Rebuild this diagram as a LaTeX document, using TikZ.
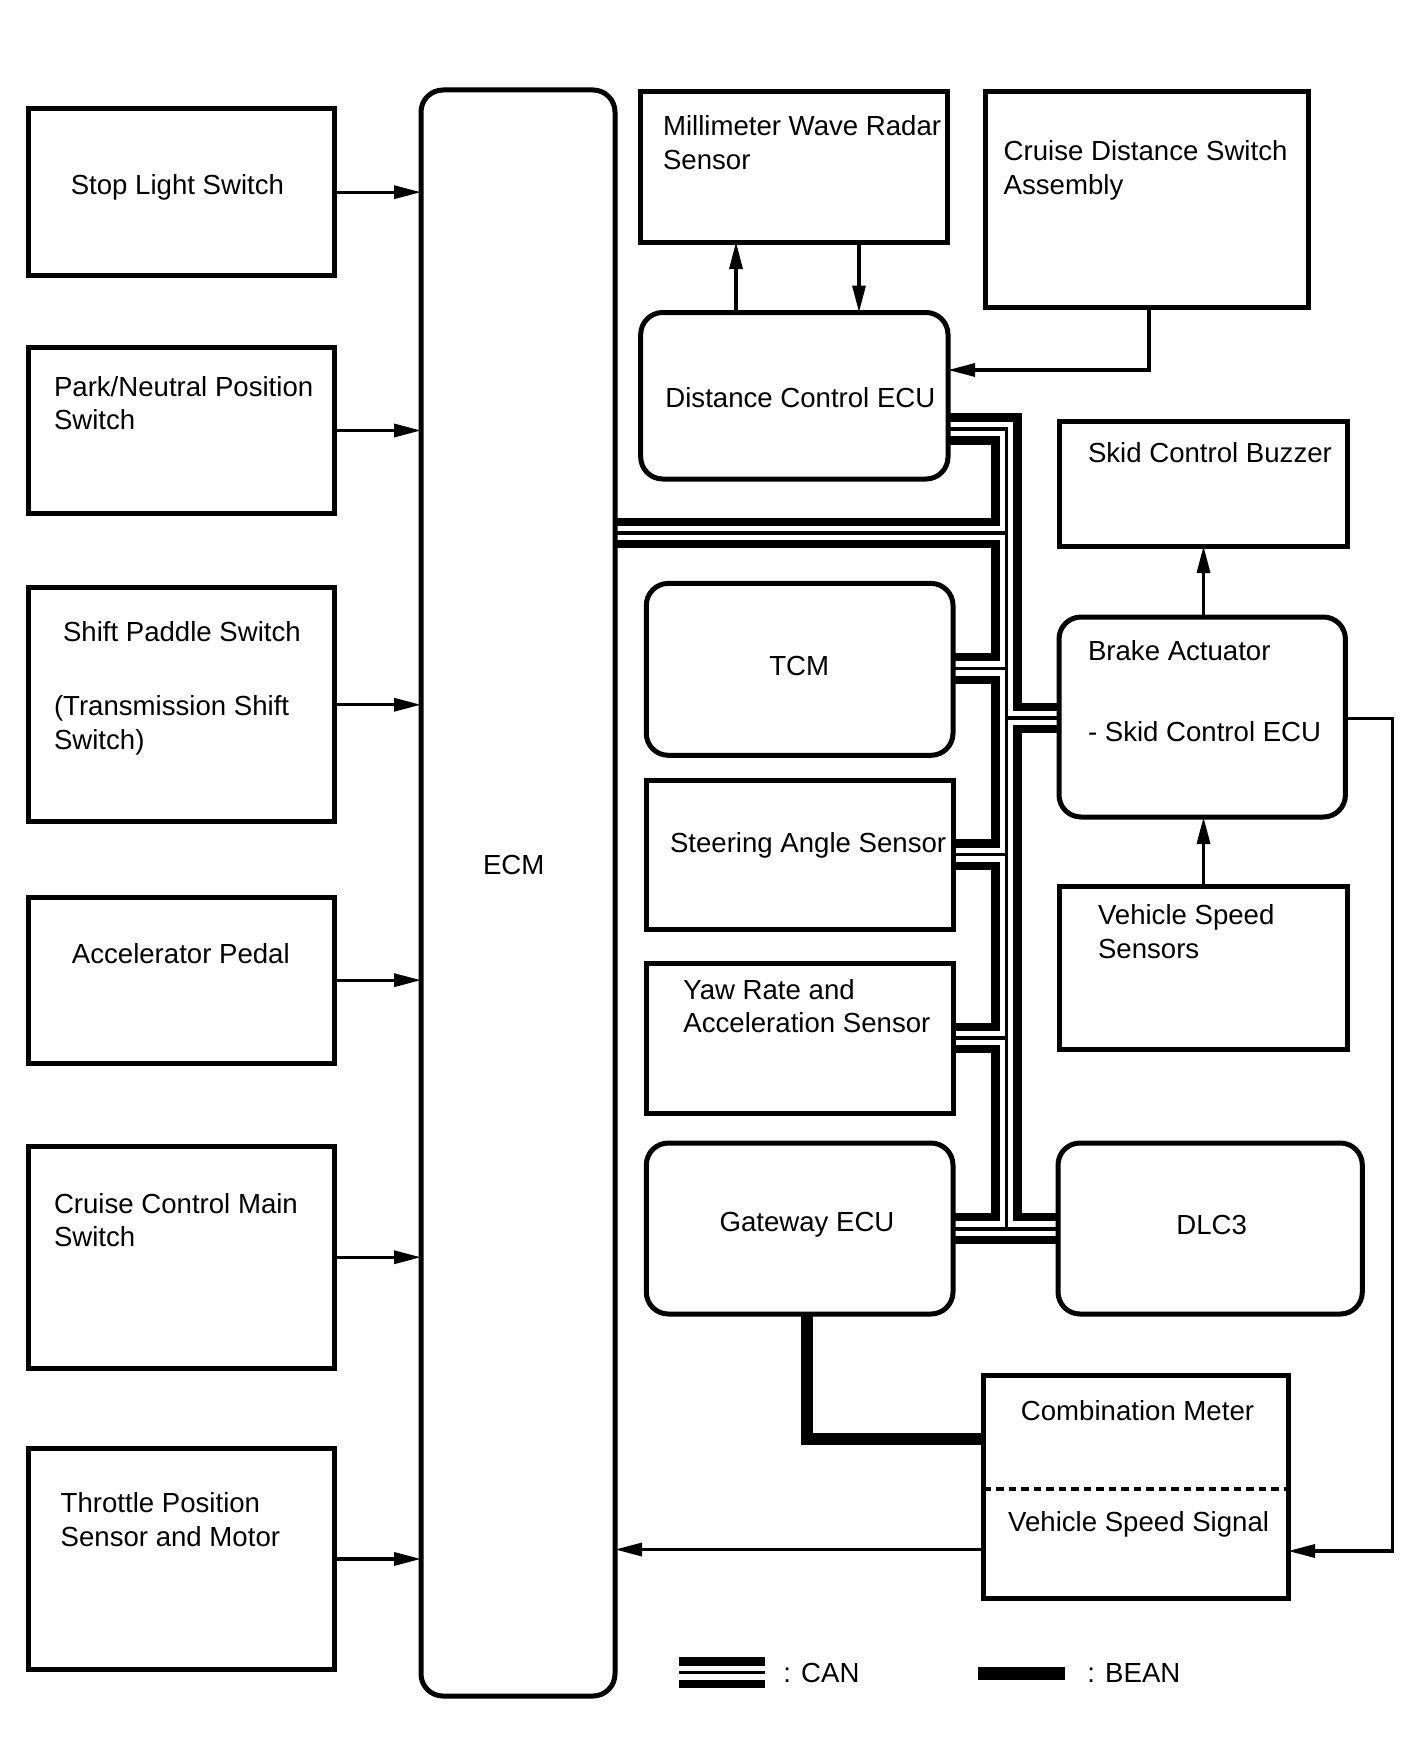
\documentclass[tikz,border=0pt]{standalone}
\usepackage{fontspec}
\setmainfont{Liberation Sans}
\usetikzlibrary{arrows.meta}
\begin{document}
\begin{tikzpicture}[x=1pt,y=-1pt,
  box/.style={draw, line width=5pt, inner sep=0pt, outer sep=0pt},
  rbox/.style={box, rounded corners=22pt},
  lbl/.style={inner sep=0pt, outer sep=0pt, anchor=base west, yshift=-2pt, font=\fontsize{27.6}{33}\selectfont},
  clbl/.style={lbl, anchor=base},
  leglbl/.style={inner sep=0pt, outer sep=0pt, anchor=base west, font=\fontsize{27.6}{33}\selectfont},
  arr/.style={line width=3.3pt, -{Triangle[length=27pt,width=13pt]}},
  canthick/.style={line width=8.3pt, line join=miter},
  canthin/.style={line width=3.3pt, line join=miter},
  bean/.style={line width=12pt, line join=miter}]
\useasboundingbox (0,0) rectangle (1424,1763);

% ---- left input boxes
\node[box, minimum width=306pt, minimum height=166.4pt] (stop) at (181,192.2) {};
\node[box, minimum width=306pt, minimum height=166.4pt] (pn)   at (181,430.5) {};
\node[box, minimum width=306pt, minimum height=233.7pt] (spd)  at (181,704.75) {};
\node[box, minimum width=306pt, minimum height=166.3pt] (acc)  at (181,980.15) {};
\node[box, minimum width=306pt, minimum height=221.5pt] (ccms) at (181,1257.25) {};
\node[box, minimum width=306pt, minimum height=220.3pt] (tps)  at (181,1558.95) {};

% ---- ECM
\node[rbox, minimum width=194pt, minimum height=1606pt] (ecm) at (518,893) {};

% ---- right side boxes
\node[box,  minimum width=306.8pt, minimum height=150pt]   (mwr)   at (794.1,167) {};
\node[box,  minimum width=322.6pt, minimum height=215pt]   (cdsa)  at (1147,199.5) {};
\node[rbox, minimum width=307.3pt, minimum height=166.5pt] (dce)   at (794.35,395.75) {};
\node[box,  minimum width=288.7pt, minimum height=125pt]   (scb)   at (1203.35,483.5) {};
\node[rbox, minimum width=286.4pt, minimum height=200pt]   (brake) at (1202.2,717) {};
\node[box,  minimum width=288.7pt, minimum height=162.7pt] (vss)   at (1203.35,968.15) {};
\node[rbox, minimum width=306.7pt, minimum height=171.9pt] (tcm)   at (799.65,669.35) {};
\node[box,  minimum width=306.7pt, minimum height=149.5pt] (sas)   at (799.65,854.75) {};
\node[box,  minimum width=306.7pt, minimum height=149.7pt] (yrs)   at (799.65,1038.15) {};
\node[rbox, minimum width=306.7pt, minimum height=171pt]   (gw)    at (799.65,1228.5) {};
\node[rbox, minimum width=304.3pt, minimum height=171pt]   (dlc)   at (1210.15,1228.5) {};
\node[box,  minimum width=304.5pt, minimum height=222.5pt] (cm)    at (1135.75,1487.05) {};
\draw[line width=4pt, dash pattern=on 7.5pt off 5pt] (cm.west |- 0,1489.3) -- (cm.east |- 0,1489.3);

% ---- labels
\node[lbl] (tstop) at (70.8,192) {Stop Light Switch};
\node[lbl] (tpn1) at (54,394.5) {Park/Neutral Position};
\node[lbl] (tpn2) at (54,427) {Switch};
\node[lbl] (tspd1) at (63,639.6) {Shift Paddle Switch};
\node[lbl] (tspd2) at (54,713.7) {(Transmission Shift};
\node[lbl] (tspd3) at (54,747.5) {Switch)};
\node[lbl] (tacc) at (71.9,961) {Accelerator Pedal};
\node[lbl] (tccms1) at (54,1211.7) {Cruise Control Main};
\node[lbl] (tccms2) at (54,1244.3) {Switch};
\node[lbl] (ttps1) at (60.7,1510.7) {Throttle Position};
\node[lbl] (ttps2) at (60.7,1544.4) {Sensor and Motor};
\node[clbl] (tecm) at (513.7,872) {ECM};
\node[lbl] (tmwr1) at (663,133.8) {Millimeter Wave Radar};
\node[lbl] (tmwr2) at (663,167.5) {Sensor};
\node[lbl] (tcdsa1) at (1003.7,158.5) {Cruise Distance Switch};
\node[lbl] (tcdsa2) at (1003.7,192.2) {Assembly};
\node[lbl] (tdce) at (665.4,405.8) {Distance Control ECU};
\node[lbl] (tscb) at (1088,460.8) {Skid Control Buzzer};
\node[lbl] (tbrake1) at (1088,658.7) {Brake Actuator};
\node[lbl] (tbrake2) at (1088,739.6) {- Skid Control ECU};
\node[lbl] (tvss1) at (1098,922.8) {Vehicle Speed};
\node[lbl] (tvss2) at (1098,956.5) {Sensors};
\node[clbl] (ttcm) at (799.2,673.3) {TCM};
\node[lbl] (tsas) at (670,850.9) {Steering Angle Sensor};
\node[lbl] (tyrs1) at (683.4,997) {Yaw Rate and};
\node[lbl] (tyrs2) at (683.4,1030.7) {Acceleration Sensor};
\node[clbl] (tgw) at (807,1229.7) {Gateway ECU};
\node[clbl] (tdlc) at (1211.7,1232) {DLC3};
\node[clbl] (tcm1) at (1137.5,1418.5) {Combination Meter};
\node[clbl] (tcm2) at (1138.6,1529.8) {Vehicle Speed Signal};

% ---- arrows into ECM
\foreach \b in {stop,pn,spd,acc,ccms,tps}
  \draw[arr] (\b.east) -- (\b.east -| ecm.west);

% ---- radar / distance ECU
\draw[arr] (dce.north -| 736,0) -- (mwr.south -| 736,0);
\draw[arr] (mwr.south -| 859,0) -- (dce.north -| 859,0);
\draw[arr] (cdsa.south -| 1149,0) -- (1149,370) -- (dce.east |- 0,370);

% ---- brake actuator
\draw[arr] (brake.north -| 1203.5,0) -- (scb.south -| 1203.5,0);
\draw[arr] (vss.north -| 1203.5,0) -- (brake.south -| 1203.5,0);
\draw[arr] (brake.east |- 0,718.2) -| (1392.6,1551) -- (cm.east |- 0,1551);

% ---- combination meter to ECM
\draw[arr] (cm.west |- 0,1549.5) -- (ecm.east |- 0,1549.5);

% ---- BEAN
\draw[bean] (gw.south -| 807,0) |- (cm.west |- 0,1438.7);

% ---- CAN bus (thick walls)
\draw[canthick] (dce.east |- 0,417.5) -- (1017.5,417.5) -- (1017.5,707) -- (brake.west |- 0,707);
\draw[canthick] (brake.west |- 0,729) -- (1017.5,729) -- (1017.5,1217) -- (dlc.west |- 0,1217);
\draw[canthick] (dce.east |- 0,440.5) -- (995.5,440.5) -- (995.5,522) -- (ecm.east |- 0,522);
\draw[canthick] (ecm.east |- 0,544) -- (995.5,544) -- (995.5,657) -- (tcm.east |- 0,657);
\draw[canthick] (tcm.east |- 0,680) -- (995.5,680) -- (995.5,843.5) -- (sas.east |- 0,843.5);
\draw[canthick] (sas.east |- 0,866) -- (995.5,866) -- (995.5,1027) -- (yrs.east |- 0,1027);
\draw[canthick] (yrs.east |- 0,1049) -- (995.5,1049) -- (995.5,1217) -- (gw.east |- 0,1217);
\draw[canthick] (gw.east |- 0,1240) -- (dlc.west |- 0,1240);
% ---- CAN bus (thin centre)
\draw[canthin] (dce.east |- 0,429) -- (1006.5,429) -- (1006.5,1229);
\draw[canthin] (ecm.east |- 0,533) -- (1006.5,533);
\draw[canthin] (tcm.east |- 0,668.5) -- (1006.5,668.5);
\draw[canthin] (1006.5,718) -- (brake.west |- 0,718);
\draw[canthin] (sas.east |- 0,854.5) -- (1006.5,854.5);
\draw[canthin] (yrs.east |- 0,1038) -- (1006.5,1038);
\draw[canthin] (gw.east |- 0,1229) -- (dlc.west |- 0,1229);

% ---- legend
\draw[canthick] (679,1661.5) -- (765,1661.5);
\draw[canthin]  (679,1672.7) -- (765,1672.7);
\draw[canthick] (679,1684) -- (765,1684);
\node[leglbl] (lcan) at (783.3,1682) {: CAN};
\draw[line width=13.3pt] (978.3,1673.3) -- (1065,1673.3);
\node[leglbl] (lbean) at (1087.3,1682) {: BEAN};
\end{tikzpicture}
\end{document}
